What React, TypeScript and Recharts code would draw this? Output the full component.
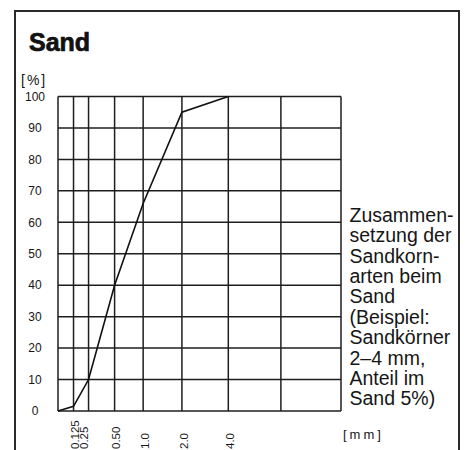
import React from 'react';
import { ComposedChart, Line, XAxis, YAxis, CartesianGrid } from 'recharts';

// Sieve sizes in mm and cumulative passing share in %
const sieveSizes = [0, 0.125, 0.25, 0.5, 1, 2, 4];
const passing = [0, 1.5, 10, 40, 66, 95, 100];

// Grid columns of the printed chart (mm) and their relative printed widths
const gridBreaks = [0, 0.125, 0.25, 0.5, 1, 2, 4, 8, 16];
const gridStops = [0, 15.5, 30.5, 56.5, 85, 123.7, 170, 222.5, 282.5];

const xTickValues = [0.125, 0.25, 0.5, 1, 2, 4];
const xTickLabels = ['0.125', '0.25', '0.50', '1.0', '2.0', '4.0'];
const yTicks = [0, 10, 20, 30, 40, 50, 60, 70, 80, 90, 100];

const noteLines = [
  'Zusammen-',
  'setzung der',
  'Sandkorn-',
  'arten beim',
  'Sand',
  '(Beispiel:',
  'Sandkörner',
  '2–4 mm,',
  'Anteil im',
  'Sand 5%)',
];

const data = sieveSizes.map((s, i) => ({ size: s, pct: passing[i] }));

function makeSieveScale(
  breaks: number[],
  stops: number[],
  dom: number[] = [breaks[0], breaks[breaks.length - 1]],
  rng: number[] = [0, 1]
): any {
  const total = stops[stops.length - 1];
  const scale: any = (v: any) => {
    const n = Number(v);
    if (!isFinite(n)) return NaN;
    let f = 0;
    if (n <= breaks[0]) f = stops[0] / total;
    else if (n >= breaks[breaks.length - 1]) f = 1;
    else {
      for (let i = 1; i < breaks.length; i++) {
        if (n <= breaks[i]) {
          const t = (n - breaks[i - 1]) / (breaks[i] - breaks[i - 1]);
          f = (stops[i - 1] + t * (stops[i] - stops[i - 1])) / total;
          break;
        }
      }
    }
    return rng[0] + f * (rng[1] - rng[0]);
  };
  scale.domain = (d?: any) => {
    if (d === undefined) return dom.slice();
    dom = [...d];
    return scale;
  };
  scale.range = (r?: any) => {
    if (r === undefined) return rng.slice();
    rng = [...r];
    return scale;
  };
  scale.copy = () => makeSieveScale(breaks, stops, dom, rng);
  scale.ticks = () => breaks.slice();
  return scale;
}

const sieveScale = makeSieveScale(gridBreaks, gridStops);

const INK = '#161616';
const FONT = '"Liberation Sans", Arial, Helvetica, sans-serif';

const XTick = (props: any) => {
  const { x, payload } = props;
  const idx = xTickValues.indexOf(payload.value);
  if (idx < 0) return null;
  const fs = 11.5;
  const dx = payload.value === 0.25 ? -5 : 1.5;
  const cx = x + dx + fs * 0.36;
  const y = 449;
  return (
    <text
      x={cx}
      y={y}
      transform={`rotate(-90 ${cx} ${y})`}
      textAnchor="start"
      fontSize={fs}
      fontFamily={FONT}
      fill={INK}
    >
      {xTickLabels[idx]}
    </text>
  );
};

const YTick = (props: any) => {
  const { y, payload } = props;
  return (
    <text
      x={35}
      y={y + 4.2}
      textAnchor="middle"
      fontSize={12}
      fontFamily={FONT}
      fill={INK}
    >
      {payload.value}
    </text>
  );
};

export default function App() {
  return (
    <div
      style={{
        position: 'absolute',
        left: 0,
        top: 0,
        width: 467,
        height: 450,
        background: '#fff',
        overflow: 'hidden',
        fontFamily: FONT,
      }}
    >
      <svg
        width={467}
        height={450}
        style={{ position: 'absolute', left: 0, top: 0 }}
      >
        <rect x={15} y={11} width={444} height={460} fill="none" stroke="#2a2a2a" strokeWidth={2} />
        <text
          x={29}
          y={51}
          fontSize={25}
          fontWeight="bold"
          fontFamily={FONT}
          fill="#111"
          stroke="#111"
          strokeWidth={0.7}
        >
          Sand
        </text>
        <text x={21} y={85} fontSize={14} letterSpacing={2} fontFamily={FONT} fill={INK}>
          [%]
        </text>
        <text x={343} y={439} fontSize={13} letterSpacing={3} fontFamily={FONT} fill={INK}>
          [mm]
        </text>
        {noteLines.map((line, i) => (
          <text
            key={i}
            x={349.5}
            y={221.7 + i * 20.4}
            fontSize={19.5}
            fontFamily={FONT}
            fill={INK}
          >
            {line}
          </text>
        ))}
      </svg>
      <div style={{ position: 'absolute', left: 0, top: 0 }}>
        <ComposedChart
          width={467}
          height={450}
          data={data}
          margin={{ top: 96.5, right: 126, bottom: 0, left: 0 }}
        >
          <CartesianGrid stroke="#1e1e1e" strokeWidth={1.5} />
          <XAxis
            type="number"
            dataKey="size"
            domain={[0, 16]}
            scale={sieveScale}
            ticks={gridBreaks}
            interval={0}
            height={39}
            axisLine={false}
            tickLine={false}
            tick={<XTick />}
          />
          <YAxis
            type="number"
            domain={[0, 100]}
            ticks={yTicks}
            interval={0}
            width={58}
            axisLine={false}
            tickLine={false}
            tick={<YTick />}
          />
          <Line
            type="linear"
            dataKey="pct"
            stroke="#111"
            strokeWidth={1.6}
            dot={false}
            isAnimationActive={false}
          />
        </ComposedChart>
      </div>
    </div>
  );
}
